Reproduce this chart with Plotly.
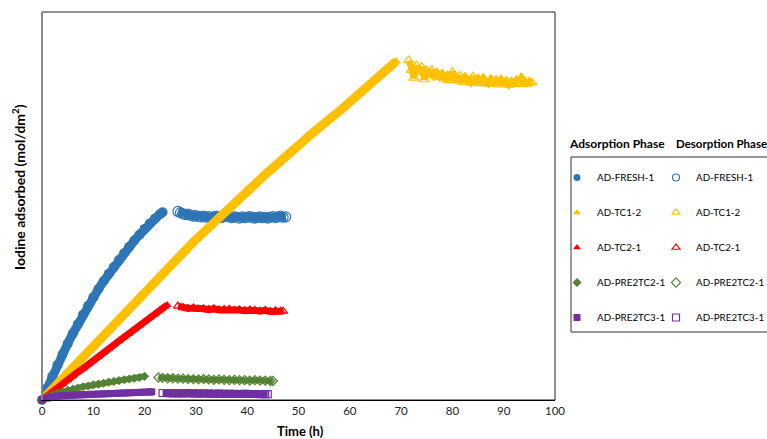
import plotly.graph_objects as go

# ---------------- data ----------------
# AD-FRESH-1 (blue)
fresh_ads_t = [0, 1, 2, 3, 4, 5, 6, 7, 8, 9, 10, 11, 12, 13, 14, 15, 16, 17, 18, 19, 20, 21, 22, 23, 23.5]
fresh_ads_v = [0, 3.1, 6.1, 9.0, 11.8, 14.5, 17.1, 19.6, 22.0, 24.3, 26.5, 28.6, 30.6, 32.5, 34.3, 36.1,
               37.8, 39.5, 41.1, 42.6, 44.1, 45.5, 46.8, 47.9, 48.4]
fresh_des_t = [26.5, 27, 27.5, 28, 28.5, 29, 29.5, 30, 30.5, 31, 31.5, 32, 32.5, 33, 33.5, 34, 34.5, 35,
               35.5, 36, 36.5, 37, 37.5, 38, 38.5, 39, 39.5, 40, 40.5, 41, 41.5, 42, 42.5, 43, 43.5, 44,
               44.5, 45, 45.5, 46, 46.5, 47, 47.5]
fresh_des_v = [48.6, 48.3, 48.0, 47.8, 47.9, 47.6, 47.4, 47.5, 47.3, 47.2, 47.4, 47.1, 47.3, 47.0, 47.2,
               47.4, 47.1, 47.0, 47.3, 47.5, 47.2, 47.0, 47.2, 47.1, 46.9, 47.2, 47.0, 47.1, 47.3, 47.0,
               46.9, 47.1, 47.2, 47.0, 47.1, 46.9, 47.1, 47.3, 47.0, 47.2, 47.4, 47.1, 47.2]

# AD-TC1-2 (yellow)
tc12_ads_t = list(range(0, 70))
tc12_ads_v = [0, 1.4, 2.9, 4.2, 5.6, 7.0, 8.4, 9.8, 11.3, 12.7, 14.2, 15.4, 16.9, 18.2, 19.7, 21.0, 22.3,
              23.8, 25.1, 26.5, 27.9, 29.1, 30.6, 31.8, 33.3, 34.5, 36.0, 37.3, 38.6, 40.0, 41.4, 42.6,
              43.9, 45.1, 46.4, 47.6, 48.9, 50.1, 51.4, 52.6, 53.9, 55.0, 56.3, 57.4, 58.7, 59.8, 61.1,
              62.2, 63.4, 64.6, 65.8, 66.8, 68.0, 69.0, 70.2, 71.2, 72.4, 73.4, 74.6, 75.6, 76.8, 78.0,
              79.1, 80.3, 81.4, 82.6, 83.7, 84.9, 86.0, 87.3]
tc12_des_t = [71.5, 72, 72.5, 73, 73.5, 74, 74.5, 75, 75.5, 76, 76.5, 77, 77.5, 78, 78.5, 79, 79.5, 80,
              80.5, 81, 81.5, 82, 82.5, 83, 83.5, 84, 84.5, 85, 85.5, 86, 86.5, 87, 87.5, 88, 88.5, 89,
              89.5, 90, 90.5, 91, 91.5, 92, 92.5, 93, 93.5, 94, 94.5, 95, 95.5]
tc12_des_v = [87.5, 85.0, 83.0, 86.2, 84.5, 85.8, 82.6, 84.9, 83.8, 85.0, 83.5, 84.3, 83.2, 84.0, 82.8,
              83.6, 82.4, 84.5, 83.0, 82.3, 83.5, 82.0, 83.2, 82.5, 81.8, 83.3, 82.2, 82.8, 81.6, 82.9,
              82.1, 81.5, 82.7, 81.9, 82.4, 81.3, 82.6, 81.8, 82.2, 81.2, 82.0, 81.6, 82.4, 81.4, 83.0,
              82.2, 81.5, 82.0, 81.8]

# AD-TC2-1 (red)
tc21_ads_t = [0, 1, 2, 3, 4, 5, 6, 7, 8, 9, 10, 11, 12, 13, 14, 15, 16, 17, 18, 19, 20, 21, 22, 23, 24, 24.4]
tc21_ads_v = [0, 1.1, 2.1, 3.1, 4.1, 5.1, 6.1, 7.2, 8.1, 9.2, 10.2, 11.2, 12.2, 13.2, 14.2, 15.2, 16.2,
              17.1, 18.2, 19.2, 20.2, 21.2, 22.1, 23.1, 24.1, 24.5]
tc21_des_t = [26.5, 27.5, 28.5, 29.5, 30.5, 31.5, 32.5, 33.5, 34.5, 35.5, 36.5, 37.5, 38.5, 39.5, 40.5,
              41.5, 42.5, 43.5, 44.5, 45.5, 46.5, 47]
tc21_des_v = [24.2, 23.8, 23.6, 23.7, 23.4, 23.5, 23.3, 23.5, 23.2, 23.3, 23.4, 23.1, 23.2, 23.0, 23.2,
              23.1, 22.9, 23.1, 22.8, 23.0, 22.9, 22.9]

# AD-PRE2TC2-1 (green)
p22_ads_t = [0, 1, 2, 3, 4, 5, 6, 7, 8, 9, 10, 11, 12, 13, 14, 15, 16, 17, 18, 19, 20]
p22_ads_v = [0, 0.8, 1.3, 1.7, 2.1, 2.5, 2.8, 3.1, 3.4, 3.6, 3.9, 4.1, 4.3, 4.6, 4.8, 5.0, 5.2, 5.4,
             5.6, 5.8, 6.1]
p22_des_t = [22.7, 23.5, 24.5, 25.5, 26.5, 27.5, 28.5, 29.5, 30.5, 31.5, 32.5, 33.5, 34.5, 35.5, 36.5,
             37.5, 38.5, 39.5, 40.5, 41.5, 42.5, 43.5, 44.5, 45]
p22_des_v = [5.8, 5.7, 5.6, 5.6, 5.5, 5.5, 5.4, 5.4, 5.3, 5.4, 5.3, 5.2, 5.3, 5.2, 5.1, 5.2, 5.1, 5.1,
             5.0, 5.1, 5.0, 5.0, 4.9, 4.9]

# AD-PRE2TC3-1 (purple)
p23_ads_t = [0, 1, 2, 3, 4, 5, 6, 7, 8, 9, 10, 11, 12, 13, 14, 15, 16, 17, 18, 19, 20, 21, 21.4]
p23_ads_v = [0, 0.5, 0.8, 1.0, 1.1, 1.2, 1.3, 1.35, 1.4, 1.45, 1.5, 1.55, 1.6, 1.65, 1.7, 1.75, 1.8,
             1.85, 1.9, 1.95, 2.0, 2.05, 2.1]
p23_des_t = [23.5, 24.5, 25.5, 26.5, 27.5, 28.5, 29.5, 30.5, 31.5, 32.5, 33.5, 34.5, 35.5, 36.5, 37.5,
             38.5, 39.5, 40.5, 41.5, 42.5, 43.5, 44]
p23_des_v = [1.8, 1.75, 1.7, 1.7, 1.7, 1.75, 1.7, 1.65, 1.7, 1.65, 1.6, 1.65, 1.6, 1.6, 1.6, 1.55, 1.6,
             1.55, 1.55, 1.5, 1.5, 1.5]

labels = ["AD-FRESH-1", "AD-TC1-2", "AD-TC2-1", "AD-PRE2TC2-1", "AD-PRE2TC3-1"]
colors = ["#2E75B6", "#FFC000", "#FF0000", "#548235", "#7030A0"]
symbols = ["circle", "triangle-up", "triangle-up", "diamond", "square"]

x_ticks = [0, 10, 20, 30, 40, 50, 60, 70, 80, 90, 100]

FONT = "Lato, 'Open Sans', sans-serif"

# (ads t, ads v, des t, des v, ads band width, marker size, des band width)
series = [
    (fresh_ads_t, fresh_ads_v, fresh_des_t, fresh_des_v, 9, 10, 8),
    (tc12_ads_t, tc12_ads_v, tc12_des_t, tc12_des_v, 9, 9, 6),
    (tc21_ads_t, tc21_ads_v, tc21_des_t, tc21_des_v, 7, 8, 7),
    (p22_ads_t, p22_ads_v, p22_des_t, p22_des_v, 6, 7, 6),
    (p23_ads_t, p23_ads_v, p23_des_t, p23_des_v, 7, 7, 8),
]

fig = go.Figure()

for i, (at, av, dt, dv, bw, ms, dbw) in enumerate(series):
    c = colors[i]
    # adsorption: solid band + filled markers
    fig.add_trace(go.Scatter(x=at, y=av, mode="lines", line=dict(color=c, width=bw),
                             showlegend=False, hoverinfo="skip", cliponaxis=False))
    fig.add_trace(go.Scatter(x=at, y=av, mode="markers", name=labels[i], showlegend=False,
                             marker=dict(color=c, symbol=symbols[i], size=ms, line=dict(width=0)),
                             cliponaxis=False))
    # desorption: band + open markers
    fig.add_trace(go.Scatter(x=dt, y=dv, mode="lines", line=dict(color=c, width=dbw),
                             showlegend=False, hoverinfo="skip", cliponaxis=False))
    fig.add_trace(go.Scatter(x=dt, y=dv, mode="markers", name=labels[i], showlegend=False,
                             marker=dict(color=c, symbol=symbols[i] + "-open", size=ms,
                                         line=dict(color=c, width=1.2)),
                             cliponaxis=False))

# legend entries (marker keys)
for i in range(5):
    c = colors[i]
    fig.add_trace(go.Scatter(x=[None], y=[None], mode="markers", name=labels[i],
                             marker=dict(color=c, symbol=symbols[i], size=7, line=dict(width=0)),
                             legend="legend", legendgroup=f"a{i}", legendrank=i + 1))
    fig.add_trace(go.Scatter(x=[None], y=[None], mode="markers", name=labels[i],
                             marker=dict(color=c, symbol=symbols[i] + "-open", size=7,
                                         line=dict(color=c, width=1.2)),
                             legend="legend2", legendgroup=f"d{i}", legendrank=i + 1))

W, H = 767, 439
L, R, T, B = 42, 212, 12, 39
pw, ph = W - L - R, H - T - B


def px2x(px):
    return (px - L) / pw


def px2y(py):
    return (H - B - py) / ph


legend_common = dict(xanchor="left", yanchor="top", bgcolor="rgba(0,0,0,0)", borderwidth=0,
                     tracegroupgap=16, traceorder="grouped",
                     font=dict(size=9.8, family=FONT, color="#000000"))

fig.update_layout(
    width=W, height=H,
    margin=dict(l=L, r=R, t=T, b=B, autoexpand=False),
    paper_bgcolor="white", plot_bgcolor="white",
    font=dict(family=FONT, size=11, color="#000000"),
    xaxis=dict(range=[0, 100], tickvals=x_ticks, ticktext=[str(v) for v in x_ticks],
               showgrid=False, zeroline=False, showline=True, linecolor="#000000", linewidth=1,
               ticks="", tickfont=dict(size=11.5, color="#222222", family=FONT)),
    yaxis=dict(range=[0, 100], showticklabels=False, showgrid=False, zeroline=False,
               showline=True, linecolor="#888888", linewidth=1, ticks=""),
    legend=dict(x=px2x(557), y=px2y(163), **legend_common),
    legend2=dict(x=px2x(656), y=px2y(163), **legend_common),
    showlegend=True,
)

# plot border (top / right)
fig.add_shape(type="rect", xref="paper", yref="paper", x0=0, x1=1, y0=0, y1=1,
              line=dict(color="#222222", width=1), layer="below")
fig.add_shape(type="line", xref="paper", yref="paper", x0=0, x1=0, y0=0, y1=1,
              line=dict(color="#888888", width=1.5))
# legend box
fig.add_shape(type="rect", xref="paper", yref="paper", x0=px2x(571), x1=px2x(775),
              y0=px2y(332), y1=px2y(157), line=dict(color="#333333", width=1))

fig.add_annotation(text="<b>Adsorption Phase</b>", xref="paper", yref="paper",
                   x=px2x(617), y=px2y(143), showarrow=False, xanchor="center", yanchor="middle",
                   font=dict(size=12, family=FONT, color="#000000"))
fig.add_annotation(text="<b>Desorption Phase</b>", xref="paper", yref="paper",
                   x=px2x(674), y=px2y(143), showarrow=False, xanchor="left", yanchor="middle",
                   font=dict(size=11.5, family=FONT, color="#000000"))
fig.add_annotation(text="<b>Time (h)</b>", xref="paper", yref="paper",
                   x=px2x(300), y=px2y(431), showarrow=False, xanchor="center", yanchor="middle",
                   font=dict(size=13, family=FONT, color="#000000"))
fig.add_annotation(text="<b>Iodine adsorbed (mol/dm<sup>2</sup>)</b>", xref="paper", yref="paper",
                   x=px2x(19), y=px2y(187), showarrow=False, xanchor="center", yanchor="middle",
                   textangle=-90, font=dict(size=14, family=FONT, color="#000000"))

fig.write_html("out.html")
